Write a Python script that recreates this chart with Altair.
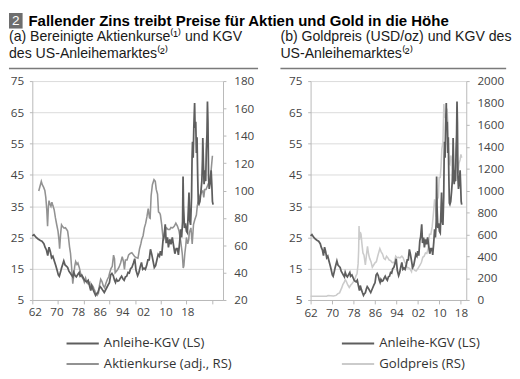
import altair as alt
import pandas as pd

# ---------------- data ----------------
KGV_YEARS = [1962.0, 1962.5, 1963.2, 1963.8, 1964.5, 1965.0, 1965.6, 1966.0, 1966.4, 1966.8,
             1967.2, 1967.6, 1968.0, 1968.4, 1968.9, 1969.3, 1969.7, 1970.1, 1970.4, 1970.8,
             1971.1, 1971.5, 1971.8, 1972.2, 1972.6, 1973.0, 1973.4, 1973.8, 1974.2, 1974.6,
             1974.9, 1975.3, 1975.7, 1976.2, 1976.6, 1976.9, 1977.4, 1977.8, 1978.2, 1978.6,
             1979.0, 1979.4, 1979.8, 1980.2, 1980.5, 1980.9, 1981.3, 1981.7, 1982.0, 1982.4,
             1982.8, 1983.1, 1983.5, 1984.0, 1984.4, 1984.8, 1985.2, 1985.6, 1986.0, 1986.4,
             1986.8, 1987.2, 1987.6, 1987.9, 1988.2, 1988.6, 1989.0, 1989.4, 1989.8, 1990.2,
             1990.6, 1991.0, 1991.4, 1991.8, 1992.2, 1992.6, 1993.0, 1993.5, 1993.9, 1994.3,
             1994.8, 1995.2, 1995.6, 1996.0, 1996.4, 1996.8, 1997.2, 1997.6, 1998.0, 1998.4,
             1998.8, 1999.2, 1999.6, 2000.0, 2000.4, 2000.8, 2001.2, 2001.6, 2001.9, 2002.3,
             2002.7, 2003.0, 2003.4, 2003.7, 2004.1, 2004.4, 2004.8, 2005.2, 2005.6, 2006.0,
             2006.4, 2006.8, 2007.2, 2007.5, 2007.9, 2008.2, 2008.5, 2008.8, 2008.95, 2009.1,
             2009.4, 2009.7, 2010.0, 2010.3, 2010.6, 2010.8, 2011.0, 2011.3, 2011.6, 2011.75,
             2011.9, 2012.1, 2012.3, 2012.55, 2012.7, 2012.9, 2013.1, 2013.3, 2013.5, 2013.7,
             2013.9, 2014.2, 2014.5, 2014.8, 2015.0, 2015.1, 2015.3, 2015.5, 2015.8, 2016.0,
             2016.2, 2016.4, 2016.55, 2016.7, 2016.9, 2017.1, 2017.4, 2017.7, 2017.9, 2018.1,
             2018.3]
KGV_VALUES = [25.5, 25.9, 25.0, 24.5, 24.0, 23.8, 23.0, 21.8, 21.0, 19.2,
              21.9, 20.5, 18.5, 19.0, 17.3, 16.0, 14.6, 13.0, 12.6, 14.0,
              15.2, 16.5, 17.5, 16.2, 15.8, 15.4, 14.2, 13.6, 13.0, 12.4,
              13.8, 12.8, 12.4, 13.2, 13.8, 12.6, 13.0, 12.2, 11.4, 11.0,
              10.8, 11.3, 9.6, 8.0, 9.6, 8.4, 7.4, 6.5, 7.0, 7.3,
              8.6, 9.3, 8.8, 8.0, 7.4, 8.2, 9.0, 9.8, 10.5, 13.0,
              13.5, 12.8, 11.3, 10.6, 11.6, 11.0, 11.2, 12.0, 12.6, 11.8,
              11.3, 12.4, 12.6, 13.8, 13.6, 15.0, 15.4, 16.8, 18.2, 14.5,
              12.8, 13.8, 15.6, 17.0, 14.8, 15.2, 14.8, 16.0, 17.8, 17.8,
              21.2, 19.6, 17.5, 15.4, 16.0, 17.8, 19.6, 19.0, 20.6, 19.2,
              24.0, 25.2, 29.2, 23.2, 25.0, 21.8, 24.4, 22.8, 25.0, 22.4,
              19.8, 21.4, 21.4, 19.4, 23.6, 27.6, 25.0, 30.0, 44.5, 35.0,
              28.0, 29.5, 27.0, 26.5, 34.0, 39.4, 30.5, 29.0, 38.0, 50.0,
              55.6, 50.5, 60.0, 68.0, 60.0, 62.0, 52.0, 57.0, 45.0, 36.0,
              35.6, 36.5, 39.5, 43.0, 50.0, 56.8, 48.5, 42.0, 46.5, 43.0,
              53.0, 58.0, 68.5, 62.0, 44.0, 40.5, 42.5, 46.5, 42.0, 36.5,
              35.5]

AKTIEN_YEARS = [1964.0, 1964.5, 1964.8, 1965.1, 1965.5, 1965.9, 1966.2, 1966.5, 1966.75, 1967.0,
                1967.2, 1967.5, 1967.8, 1968.1, 1968.4, 1968.8, 1969.2, 1969.6, 1970.0, 1970.3,
                1970.5, 1970.8, 1971.1, 1971.5, 1971.9, 1972.3, 1972.7, 1973.0, 1973.3, 1973.6,
                1973.9, 1974.2, 1974.6, 1974.9, 1975.2, 1975.5, 1975.9, 1976.2, 1976.6, 1977.0,
                1977.4, 1977.9, 1978.2, 1978.6, 1979.0, 1979.4, 1979.9, 1980.2, 1980.5, 1980.9,
                1981.2, 1981.6, 1981.9, 1982.2, 1982.6, 1982.9, 1983.3, 1983.7, 1984.1, 1984.5,
                1984.9, 1985.4, 1985.8, 1986.1, 1986.5, 1986.9, 1987.3, 1987.6, 1987.8, 1988.2,
                1988.6, 1989.0, 1989.5, 1990.0, 1990.4, 1990.7, 1991.0, 1991.5, 1992.0, 1992.5,
                1993.0, 1993.5, 1993.9, 1994.4, 1994.9, 1995.4, 1995.8, 1996.1, 1996.5, 1996.9,
                1997.3, 1997.7, 1998.1, 1998.5, 1998.7, 1999.0, 1999.4, 1999.9, 2000.3, 2000.6,
                2001.0, 2001.3, 2001.7, 2001.9, 2002.3, 2002.8, 2003.3, 2003.8, 2004.3, 2004.8,
                2005.2, 2005.7, 2006.2, 2006.7, 2007.2, 2007.7, 2008.2, 2008.7, 2009.0, 2009.2,
                2009.5, 2009.8, 2010.0, 2010.4, 2010.7, 2010.9, 2011.4, 2011.8, 2012.2, 2012.6,
                2013.1, 2013.4, 2013.8, 2014.2, 2014.6, 2015.1, 2015.4, 2015.7, 2016.1, 2016.5,
                2016.9, 2017.3, 2017.7, 2018.1]
AKTIEN_VALUES = [99.7, 104.0, 106.7, 104.3, 102.5, 100.0, 95.0, 86.0, 74.0, 88.0,
                 92.6, 90.0, 88.5, 91.5, 89.0, 86.0, 80.0, 75.0, 70.4, 64.0,
                 57.5, 68.0, 75.0, 73.5, 72.5, 72.8, 71.5, 70.4, 65.0, 58.7,
                 54.0, 45.0, 32.0, 38.0, 44.6, 48.1, 46.0, 47.0, 44.0, 40.0,
                 37.0, 35.2, 33.0, 36.0, 32.5, 31.7, 32.9, 28.0, 31.0, 30.0,
                 28.2, 26.0, 24.7, 23.5, 25.0, 30.5, 35.2, 33.5, 30.5, 29.0,
                 32.0, 35.2, 37.0, 39.9, 43.0, 44.6, 52.8, 50.0, 39.9, 41.0,
                 42.3, 44.0, 47.0, 51.6, 48.0, 42.3, 49.3, 49.3, 53.0, 54.0,
                 54.5, 53.0, 51.6, 51.0, 50.5, 57.5, 61.0, 64.5, 67.0, 72.7,
                 76.0, 80.9, 86.8, 80.0, 79.7, 96.1, 104.3, 107.9, 106.7, 100.8,
                 97.3, 84.4, 83.5, 82.1, 75.1, 63.3, 70.4, 72.7, 71.5, 71.5,
                 73.0, 72.7, 73.9, 76.2, 74.0, 70.4, 63.3, 54.0, 43.4, 45.0,
                 54.0, 60.0, 65.7, 61.0, 64.0, 69.2, 72.7, 61.0, 75.1, 78.6,
                 82.1, 89.1, 92.6, 96.1, 98.5, 99.7, 95.0, 100.8, 100.8, 103.2,
                 105.5, 107.9, 114.9, 125.4]

GOLD_YEARS = [1962.0, 1968.0, 1968.5, 1969.5, 1970.5, 1971.5, 1972.2, 1972.8, 1973.3, 1973.6,
              1974.0, 1974.5, 1974.9, 1975.3, 1975.8, 1976.4, 1976.9, 1977.4, 1977.9, 1978.4,
              1978.9, 1979.3, 1979.7, 1979.9, 1980.05, 1980.2, 1980.5, 1980.8, 1981.1, 1981.5,
              1981.9, 1982.4, 1982.9, 1983.2, 1983.6, 1984.0, 1984.5, 1985.0, 1985.5, 1986.0,
              1986.5, 1987.0, 1987.8, 1988.3, 1988.8, 1989.3, 1989.8, 1990.3, 1990.8, 1991.3,
              1991.8, 1992.3, 1992.8, 1993.3, 1993.7, 1994.2, 1994.8, 1995.3, 1996.0, 1996.5,
              1997.0, 1997.5, 1998.0, 1998.5, 1999.0, 1999.6, 1999.8, 2000.3, 2000.8, 2001.3,
              2001.8, 2002.3, 2002.8, 2003.3, 2003.8, 2004.3, 2004.8, 2005.3, 2005.8, 2006.3,
              2006.8, 2007.3, 2007.8, 2008.2, 2008.6, 2008.8, 2009.2, 2009.6, 2009.9, 2010.3,
              2010.6, 2010.9, 2011.3, 2011.65, 2011.9, 2012.2, 2012.5, 2012.8, 2013.1, 2013.4,
              2013.6, 2013.9, 2014.2, 2014.6, 2014.9, 2015.3, 2015.6, 2015.9, 2016.3, 2016.6,
              2016.9, 2017.3, 2017.7, 2018.0, 2018.3]
GOLD_VALUES = [35, 35, 40, 38, 36, 42, 58, 65, 95, 110,
               140, 160, 185, 170, 140, 115, 135, 148, 165, 185,
               220, 240, 330, 450, 675, 550, 620, 600, 520, 430,
               410, 320, 430, 490, 420, 380, 350, 300, 320, 340,
               350, 400, 470, 440, 420, 380, 370, 400, 385, 365,
               360, 345, 340, 350, 400, 385, 390, 385, 400, 385,
               350, 330, 295, 295, 285, 260, 300, 285, 270, 265,
               280, 300, 320, 345, 390, 400, 430, 425, 470, 600,
               600, 670, 800, 920, 850, 760, 920, 940, 1120, 1120,
               1220, 1380, 1440, 1790, 1680, 1690, 1590, 1750, 1640, 1390,
               1250, 1240, 1320, 1290, 1200, 1190, 1130, 1080, 1240, 1340,
               1160, 1250, 1280, 1330, 1300]

X_TICK_YEARS = [1962, 1970, 1978, 1986, 1994, 2002, 2010, 2018]
X_LABELS = ["62", "70", "78", "86", "94", "02", "10", "18"]
# in panel (a) the source prints the year labels at these (shifted) positions
LEFT_LABEL_POS = [1962.8, 1969.5, 1976.2, 1983.0, 1990.0, 1996.5, 2003.5, 2010.3]
Y_LEFT_TICKS = [5, 15, 25, 35, 45, 55, 65, 75]
Y_AKTIEN_TICKS = [20, 40, 60, 80, 100, 120, 140, 160, 180]
Y_GOLD_TICKS = [0, 200, 400, 600, 800, 1000, 1200, 1400, 1600, 1800, 2000]

TITLE_NO = "2"
TITLE = "Fallender Zins treibt Preise für Aktien und Gold in die Höhe"
SUB_A = ["(a) Bereinigte Aktienkurse⁽¹⁾ und KGV", "des US-Anleihemarktes⁽²⁾"]
SUB_B = ["(b) Goldpreis (USD/oz) und KGV des", "US-Anleihemarktes⁽²⁾"]
LEG_KGV = "Anleihe-KGV (LS)"
LEG_AKTIEN = "Aktienkurse (adj., RS)"
LEG_GOLD = "Goldpreis (RS)"

C_KGV = "#5e5e5e"
C_AKTIEN = "#929292"
C_GOLD = "#cbcbcb"

FONT = "Open Sans"
HFONT = "Liberation Sans"
W1, W2, H = 196, 160, 225

kgv_a = pd.DataFrame({"year": KGV_YEARS, "v": KGV_VALUES, "s": LEG_KGV})
kgv_b = pd.DataFrame({"year": KGV_YEARS, "v": KGV_VALUES, "s": LEG_KGV})
aktien = pd.DataFrame({"year": AKTIEN_YEARS, "v": AKTIEN_VALUES, "s": LEG_AKTIEN})
gold = pd.DataFrame({"year": GOLD_YEARS, "v": GOLD_VALUES, "s": LEG_GOLD})


def js_list(xs):
    return "[" + ",".join("'" + x + "'" if isinstance(x, str) else repr(x) for x in xs) + "]"


label_expr_left = f"{js_list(X_LABELS)}[indexof({js_list(LEFT_LABEL_POS)}, datum.value)]"
label_expr_right = f"{js_list(X_LABELS)}[indexof({js_list(X_TICK_YEARS)}, datum.value)]"

axis_common = dict(labelFont=FONT, labelFontSize=12, labelColor="#444444",
                   domainColor="#b8b8b8", tickColor="#b8b8b8", labelOverlap=False)


def legend(x, y):
    return alt.Legend(orient="none", legendX=x, legendY=y, direction="vertical",
                      title=None, symbolType="M-5,0H5", symbolSize=44,
                      symbolStrokeWidth=2, labelFont=FONT, labelFontSize=13.5,
                      labelColor="#333333", labelOffset=15, rowPadding=6, padding=0)


def y_left_axis():
    return alt.Axis(values=Y_LEFT_TICKS, grid=True, gridColor="#dadada", tickSize=3,
                    labelPadding=6, orient="left", title=None, **axis_common)


def x_tick_axis():
    return alt.Axis(values=X_TICK_YEARS, labels=False, ticks=True, tickSize=4, domain=True,
                    grid=False, orient="bottom", title=None, **axis_common)


def x_label_axis(values, expr, pad):
    return alt.Axis(values=values, labelExpr=expr, ticks=False, domain=False, grid=False,
                    orient="bottom", labelPadding=pad, labelFlush=False, title=None,
                    **axis_common)


def header(sub_lines, x0, x1, with_title):
    one = pd.DataFrame({"t": [sub_lines[0]]})
    two = pd.DataFrame({"t": [sub_lines[1]]})
    layers = [
        alt.Chart(one).mark_text(align="left", baseline="middle", font=HFONT, fontSize=14.5,
                                 color="#1a1a1a").encode(
            x=alt.value(x0), y=alt.value(-45), text="t:N"),
        alt.Chart(two).mark_text(align="left", baseline="middle", font=HFONT, fontSize=14.5,
                                 color="#1a1a1a").encode(
            x=alt.value(x0), y=alt.value(-28), text="t:N"),
        alt.Chart(one).mark_rule(color="#7a7a7a", strokeWidth=1.5).encode(
            x=alt.value(x0), x2=alt.value(x1), y=alt.value(-13)),
    ]
    if with_title:
        no = pd.DataFrame({"t": [TITLE_NO]})
        tt = pd.DataFrame({"t": [TITLE]})
        layers += [
            alt.Chart(no).mark_rect(color="#6e6e6e").encode(
                x=alt.value(x0), x2=alt.value(x0 + 14), y=alt.value(-70), y2=alt.value(-54)),
            alt.Chart(no).mark_text(align="center", baseline="middle", font=HFONT, fontSize=14,
                                    color="white").encode(
                x=alt.value(x0 + 7), y=alt.value(-62), text="t:N"),
            alt.Chart(tt).mark_text(align="left", baseline="middle", font=HFONT, fontSize=15.4,
                                    fontWeight="bold", color="#000000").encode(
                x=alt.value(x0 + 20), y=alt.value(-62), text="t:N"),
        ]
    return layers


# ---------------- panel (a) ----------------
xa = alt.Scale(domain=[1962, 2021.4], nice=False, zero=False)
color_a = alt.Scale(domain=[LEG_KGV, LEG_AKTIEN], range=[C_KGV, C_AKTIEN])

aktien_line = alt.Chart(aktien).mark_line(strokeWidth=1.6).encode(
    x=alt.X("year:Q", scale=xa, axis=x_tick_axis()),
    y=alt.Y("v:Q", scale=alt.Scale(domain=[20, 180], nice=False, zero=False),
            axis=alt.Axis(values=Y_AKTIEN_TICKS, grid=False, tickSize=3, labelPadding=8,
                          orient="right", title=None, format="d", **axis_common)),
    color=alt.Color("s:N", scale=color_a, legend=legend(45, 263)),
)
kgv_line_a = alt.Chart(kgv_a).mark_line(strokeWidth=1.8).encode(
    x=alt.X("year:Q", scale=xa, axis=x_label_axis(LEFT_LABEL_POS, label_expr_left, 7)),
    y=alt.Y("v:Q", scale=alt.Scale(domain=[5, 75], nice=False, zero=False), axis=y_left_axis()),
    color=alt.Color("s:N", scale=color_a, legend=legend(45, 263)),
)

panel_a = alt.layer(aktien_line, kgv_line_a, *header(SUB_A, -24, 232, True)).resolve_scale(
    y="independent").resolve_axis(x="independent").properties(width=W1, height=H)

# ---------------- panel (b) ----------------
xb = alt.Scale(domain=[1962, 2020], nice=False, zero=False)
color_b = alt.Scale(domain=[LEG_KGV, LEG_GOLD], range=[C_KGV, C_GOLD])

gold_line = alt.Chart(gold).mark_line(strokeWidth=1.6).encode(
    x=alt.X("year:Q", scale=xb, axis=x_tick_axis()),
    y=alt.Y("v:Q", scale=alt.Scale(domain=[0, 2000], nice=False, zero=False),
            axis=alt.Axis(values=Y_GOLD_TICKS, grid=False, tickSize=3, labelPadding=8,
                          orient="right", title=None, format="d", **axis_common)),
    color=alt.Color("s:N", scale=color_b, legend=legend(42, 263)),
)
kgv_line_b = alt.Chart(kgv_b).mark_line(strokeWidth=1.8).encode(
    x=alt.X("year:Q", scale=xb, axis=x_label_axis(X_TICK_YEARS, label_expr_right, 8)),
    y=alt.Y("v:Q", scale=alt.Scale(domain=[5, 75], nice=False, zero=False), axis=y_left_axis()),
    color=alt.Color("s:N", scale=color_b, legend=legend(42, 263)),
)

panel_b = alt.layer(gold_line, kgv_line_b, *header(SUB_B, -31, 201, False)).resolve_scale(
    y="independent").resolve_axis(x="independent").properties(width=W2, height=H)

chart = alt.hconcat(panel_a, panel_b, spacing=90, bounds="flush").resolve_scale(
    color="independent").resolve_legend(color="independent").configure_view(
    stroke=None).properties(padding=0)

chart.save("out.html", embed_options={"renderer": "svg", "actions": False})
